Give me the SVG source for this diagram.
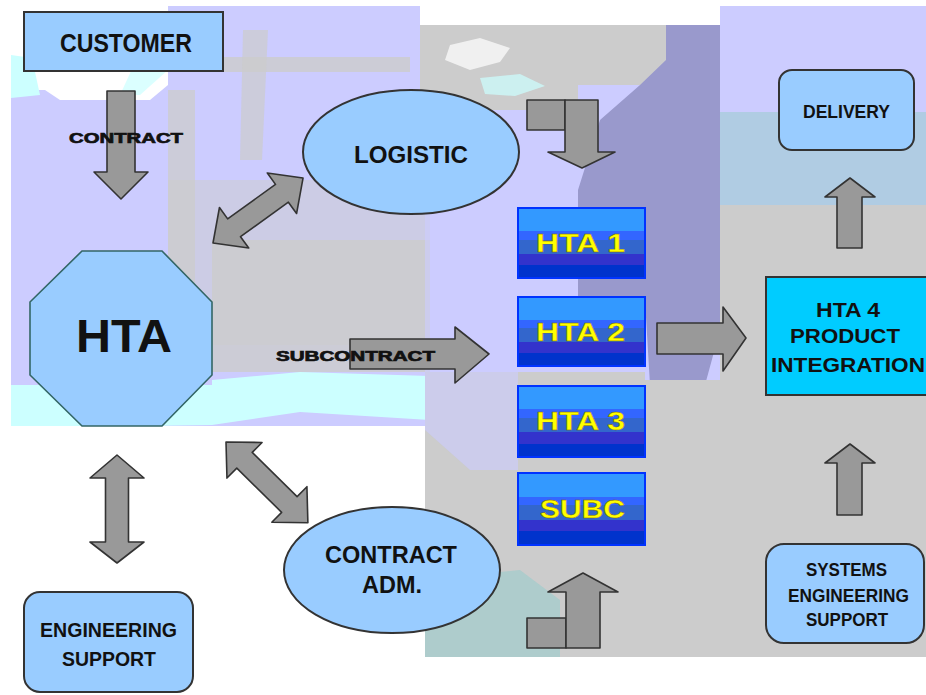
<svg xmlns="http://www.w3.org/2000/svg" width="926" height="695" viewBox="0 0 926 695">
<defs>
<style>
.lbl{font-family:"Liberation Sans",Arial,sans-serif;font-weight:bold;fill:#111}
.heavy{stroke:#111;stroke-width:0.7}
.yl{font-family:"Liberation Sans",Arial,sans-serif;font-weight:bold;fill:#ffff00;stroke:#806600;stroke-width:0.4}
.node{fill:#99ccff;stroke:#333;stroke-width:2}
.arr{fill:#999999;stroke:#333;stroke-width:1.6;stroke-linejoin:round}
.hta{stroke:#0033ff;stroke-width:2;fill:url(#bands)}
</style>
<linearGradient id="bands" x1="0" y1="0" x2="0" y2="1">
<stop offset="0" stop-color="#3399ff"/><stop offset="0.33" stop-color="#3399ff"/>
<stop offset="0.33" stop-color="#3366ff"/><stop offset="0.45" stop-color="#3366ff"/>
<stop offset="0.45" stop-color="#3366cc"/><stop offset="0.65" stop-color="#3366cc"/>
<stop offset="0.65" stop-color="#3333cc"/><stop offset="0.81" stop-color="#3333cc"/>
<stop offset="0.81" stop-color="#0033cc"/><stop offset="1" stop-color="#0033cc"/>
</linearGradient>
</defs>

<g id="background">
<rect x="0" y="0" width="926" height="695" fill="#ffffff"/>
<rect x="11" y="6" width="915" height="435" fill="#ccccff"/>
<polygon points="11,6 168,6 168,85 150,100 60,100 45,90 11,90" fill="#ffffff"/>
<polygon points="11,55 32,58 40,95 11,98" fill="#ccffff"/>
<polygon points="150,30 168,30 168,70 140,95 120,95" fill="#ccffff" opacity="0.7"/>
<rect x="168" y="6" width="252" height="20" fill="#ccccff"/>
<rect x="190" y="57" width="220" height="15" fill="#cccccc" opacity="0.8"/>
<polygon points="243,30 268,30 262,160 240,160" fill="#cccccc" opacity="0.7"/>
<rect x="168" y="90" width="27" height="260" fill="#cccccc" opacity="0.75"/>
<rect x="168" y="180" width="262" height="165" fill="#cccccc" opacity="0.5"/>
<rect x="212" y="240" width="218" height="132" fill="#cccccc" opacity="0.8"/>
<polygon points="11,385 212,385 212,380 300,372 430,376 430,420 300,412 212,425 11,428" fill="#ccffff"/>
<rect x="11" y="426" width="414" height="240" fill="#ffffff"/>
<rect x="420" y="6" width="300" height="20" fill="#ffffff"/>
<rect x="420" y="25" width="158" height="85" fill="#cccccc"/>
<polygon points="450,45 480,38 510,48 500,62 470,70 445,60" fill="#ffffff" opacity="0.7"/>
<polygon points="480,78 520,74 545,86 515,96 485,94" fill="#ccffff" opacity="0.7"/>
<rect x="578" y="25" width="142" height="60" fill="#cccccc"/>
<polygon points="666,25 720,25 720,330 705,385 650,385 645,300 578,300 578,190 600,120 640,85 666,60" fill="#9999cc"/>
<rect x="720" y="112" width="206" height="93" fill="#99cccc" opacity="0.55"/>
<rect x="720" y="205" width="206" height="452" fill="#cccccc"/>
<rect x="645" y="380" width="75" height="277" fill="#cccccc"/>
<rect x="425" y="372" width="220" height="285" fill="#cccccc"/>
<polygon points="425,200 518,200 518,470 470,470 425,430" fill="#ccccff" opacity="0.6"/>
<polygon points="425,560 470,575 520,570 560,600 560,657 425,657" fill="#99cccc" opacity="0.6"/>
</g>

<g id="connectors">
<polygon class="arr" points="107,91 135,91 135,172 148,172 121,199 94,172 107,172"/>
<path class="arr" transform="translate(213,243) rotate(-35.8)" d="M0,0 L26,-25 L26,-11 L85,-11 L85,-25 L111,0 L85,25 L85,11 L26,11 L26,25 Z"/>
<path class="arr" transform="translate(226,442) rotate(44.6)" d="M0,0 L26,-25 L26,-11 L89,-11 L89,-25 L115,0 L89,25 L89,11 L26,11 L26,25 Z"/>
<path class="arr" transform="translate(117,455) rotate(90)" d="M0,0 L23,-27 L23,-11.5 L87,-11.5 L87,-27 L108,0 L87,27 L87,11.5 L23,11.5 L23,27 Z"/>
<rect class="arr" x="527" y="100" width="38" height="30"/>
<polygon class="arr" points="565,100 598,100 598,152 615,152 582,168 548,152 565,152"/>
<polygon class="arr" points="350,339 455,339 455,327 489,354 455,383 455,369 350,369"/>
<polygon class="arr" points="657,323 723,323 723,307 746,338 723,371 723,354 657,354"/>
<polygon class="arr" points="837,248 862,248 862,197 875,197 850,178 825,197 837,197"/>
<polygon class="arr" points="837,515 862,515 862,463 875,463 850,444 825,463 837,463"/>
<rect class="arr" x="527" y="618" width="39" height="30"/>
<polygon class="arr" points="566,648 600,648 600,592 618,592 583,573 548,592 566,592"/>
<text class="lbl heavy" x="69" y="143" font-size="15" textLength="114" lengthAdjust="spacingAndGlyphs">CONTRACT</text>
<text class="lbl heavy" x="276" y="361" font-size="14" textLength="159" lengthAdjust="spacingAndGlyphs">SUBCONTRACT</text>
</g>

<g id="customer">
<rect class="node" x="24" y="12" width="199" height="59"/>
<text class="lbl" x="60" y="52" font-size="25" textLength="132" lengthAdjust="spacingAndGlyphs">CUSTOMER</text>
</g>

<g id="logistic">
<ellipse class="node" cx="411" cy="152" rx="108" ry="62" stroke-width="1.6"/>
<text class="lbl" x="354" y="163" font-size="24" textLength="114" lengthAdjust="spacingAndGlyphs">LOGISTIC</text>
</g>

<g id="hta">
<polygon points="82,251 162,251 212,302 212,375 162,426 82,426 30,375 30,302" fill="#99ccff" stroke="#336666" stroke-width="1.6"/>
<text class="lbl" x="76" y="352" font-size="46" textLength="96" lengthAdjust="spacingAndGlyphs">HTA</text>
</g>

<g id="hta1">
<rect class="hta" x="518" y="208" width="127" height="70"/>
<text class="yl" x="536" y="252" font-size="25" textLength="89" lengthAdjust="spacingAndGlyphs">HTA 1</text>
</g>
<g id="hta2">
<rect class="hta" x="518" y="297" width="127" height="69"/>
<text class="yl" x="536" y="341" font-size="25" textLength="89" lengthAdjust="spacingAndGlyphs">HTA 2</text>
</g>
<g id="hta3">
<rect class="hta" x="518" y="386" width="127" height="71"/>
<text class="yl" x="536" y="430" font-size="25" textLength="89" lengthAdjust="spacingAndGlyphs">HTA 3</text>
</g>
<g id="subc">
<rect class="hta" x="518" y="473" width="127" height="72"/>
<text class="yl" x="540" y="518" font-size="25" textLength="85" lengthAdjust="spacingAndGlyphs">SUBC</text>
</g>

<g id="hta4">
<rect x="766" y="277" width="170" height="118" fill="#00ccff" stroke="#333" stroke-width="2"/>
<text class="lbl" x="816" y="317" font-size="21" textLength="64" lengthAdjust="spacingAndGlyphs">HTA 4</text>
<text class="lbl" x="790" y="343" font-size="21" textLength="110" lengthAdjust="spacingAndGlyphs">PRODUCT</text>
<text class="lbl" x="771" y="372" font-size="21" textLength="154" lengthAdjust="spacingAndGlyphs">INTEGRATION</text>
</g>

<g id="delivery">
<rect class="node" x="779" y="70" width="135" height="80" rx="13"/>
<text class="lbl" x="803" y="118" font-size="18" textLength="87" lengthAdjust="spacingAndGlyphs">DELIVERY</text>
</g>

<g id="systems">
<rect class="node" x="766" y="544" width="158" height="99" rx="18"/>
<text class="lbl" x="806" y="576" font-size="18" textLength="81" lengthAdjust="spacingAndGlyphs">SYSTEMS</text>
<text class="lbl" x="788" y="602" font-size="18" textLength="121" lengthAdjust="spacingAndGlyphs">ENGINEERING</text>
<text class="lbl" x="806" y="626" font-size="18" textLength="82" lengthAdjust="spacingAndGlyphs">SUPPORT</text>
</g>

<g id="contract-adm">
<ellipse class="node" cx="392" cy="570" rx="108" ry="63" stroke-width="1.6"/>
<text class="lbl" x="325" y="563" font-size="23" textLength="132" lengthAdjust="spacingAndGlyphs">CONTRACT</text>
<text class="lbl" x="362" y="593" font-size="23" textLength="60" lengthAdjust="spacingAndGlyphs">ADM.</text>
</g>

<g id="engineering">
<rect class="node" x="24" y="592" width="169" height="100" rx="16"/>
<text class="lbl" x="40" y="637" font-size="20" textLength="137" lengthAdjust="spacingAndGlyphs">ENGINEERING</text>
<text class="lbl" x="62" y="666" font-size="20" textLength="94" lengthAdjust="spacingAndGlyphs">SUPPORT</text>
</g>
</svg>
